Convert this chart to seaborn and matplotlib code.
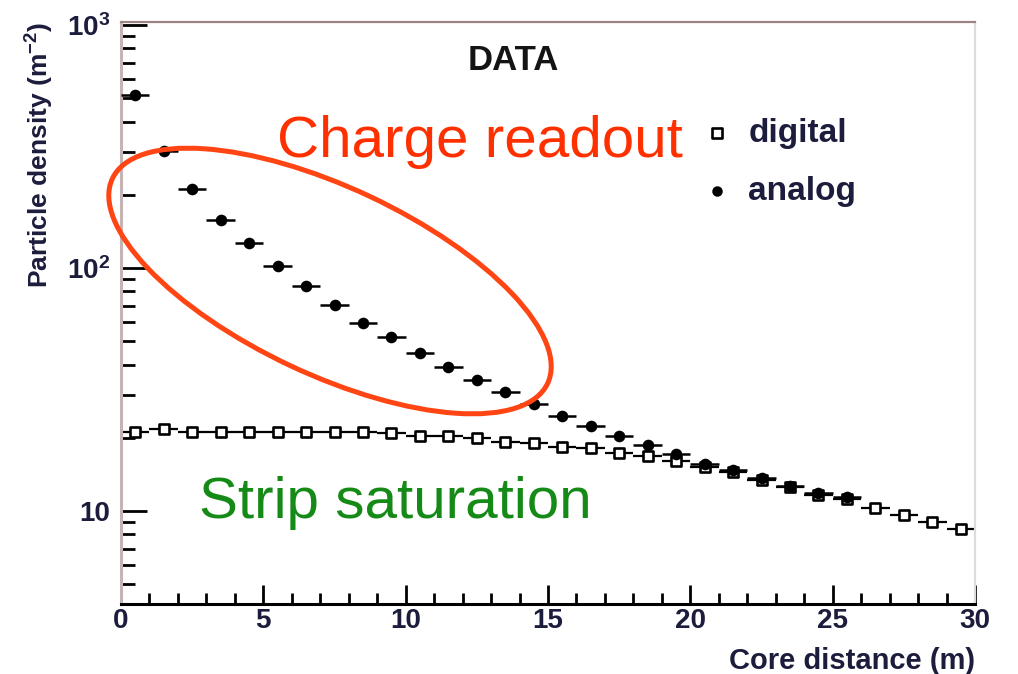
import matplotlib
matplotlib.use("Agg")
import matplotlib.pyplot as plt
from matplotlib.patches import Ellipse
from matplotlib.ticker import FixedLocator, FixedFormatter, LogLocator, MultipleLocator, NullFormatter
import pandas as pd
import seaborn as sns

# Core-distance bin centres (m); bins are 1 m wide
distance_digital = [0.5, 1.5, 2.5, 3.5, 4.5, 5.5, 6.5, 7.5, 8.5, 9.5,
                    10.5, 11.5, 12.5, 13.5, 14.5, 15.5, 16.5, 17.5, 18.5, 19.5,
                    20.5, 21.5, 22.5, 23.5, 24.5, 25.5, 26.5, 27.5, 28.5, 29.5]
density_digital = [21.1, 21.7, 21.1, 21.1, 21.1, 21.1, 21.1, 21.1, 21.1, 20.9,
                   20.4, 20.3, 19.9, 19.2, 19.0, 18.4, 18.1, 17.3, 16.8, 16.1,
                   15.2, 14.5, 13.4, 12.6, 11.6, 11.2, 10.3, 9.6, 9.0, 8.4]

distance_analog = [0.5, 1.5, 2.5, 3.5, 4.5, 5.5, 6.5, 7.5, 8.5, 9.5,
                   10.5, 11.5, 12.5, 13.5, 14.5, 15.5, 16.5, 17.5, 18.5, 19.5,
                   20.5, 21.5, 22.5, 23.5, 24.5, 25.5]
density_analog = [515, 303, 211, 158, 127, 102, 84.3, 70.5, 59.5, 51.8,
                  44.7, 39.2, 34.6, 30.9, 27.6, 24.6, 22.4, 20.4, 18.7, 17.2,
                  15.6, 14.7, 13.7, 12.7, 11.9, 11.4]

bin_half_width = 0.5

x_ticks = [0, 5, 10, 15, 20, 25, 30]
x_tick_labels = ["0", "5", "10", "15", "20", "25", "30"]
y_ticks = [10, 100, 1000]
y_tick_labels = ["10", "$\\mathbf{10^{2}}$", "$\\mathbf{10^{3}}$"]

sns.set_style("ticks")
plt.rcParams.update({
    "font.family": ["Liberation Sans", "DejaVu Sans"],
    "mathtext.fontset": "custom",
    "mathtext.rm": "Liberation Sans",
    "mathtext.it": "Liberation Sans:italic",
    "mathtext.bf": "Liberation Sans:bold",
})

W, H = 1018, 674
fig = plt.figure(figsize=(W / 100, H / 100), dpi=100)
fig.patch.set_facecolor("white")
ax = fig.add_axes([121 / W, (H - 604) / H, 854 / W, 582 / H])
ax.set_facecolor("white")

digital = pd.DataFrame({"distance": distance_digital, "density": density_digital})
analog = pd.DataFrame({"distance": distance_analog, "density": density_analog})

# digital (strip counting) points
ax.errorbar(digital["distance"], digital["density"], xerr=bin_half_width,
            fmt="none", ecolor="black", elinewidth=1.6, capsize=0, zorder=2)
sns.scatterplot(data=digital, x="distance", y="density", marker="s", s=60,
                color="white", edgecolor="black", linewidth=1.9,
                label="digital", ax=ax, zorder=3)

# analog (charge) points
ax.errorbar(analog["distance"], analog["density"], xerr=bin_half_width,
            fmt="none", ecolor="black", elinewidth=1.8, capsize=0, zorder=4)
sns.scatterplot(data=analog, x="distance", y="density", marker="o", s=70,
                color="black", edgecolor="black", linewidth=0,
                label="analog", ax=ax, zorder=5)

ax.set_yscale("log")
ax.set_xlim(0, 30)
ax.set_ylim(4.14, 1028)

tick_color = "#1c1c3c"
ax.xaxis.set_major_locator(FixedLocator(x_ticks))
ax.xaxis.set_major_formatter(FixedFormatter(x_tick_labels))
ax.xaxis.set_minor_locator(MultipleLocator(1))
ax.yaxis.set_major_locator(FixedLocator(y_ticks))
ax.yaxis.set_major_formatter(FixedFormatter(y_tick_labels))
ax.yaxis.set_minor_locator(LogLocator(base=10, subs=[2, 3, 4, 5, 6, 7, 8, 9]))
ax.yaxis.set_minor_formatter(NullFormatter())

ax.tick_params(axis="both", which="both", direction="in", color="black",
               labelcolor=tick_color, labelsize=20, width=2.0)
ax.tick_params(axis="x", which="major", length=14, pad=3, top=False)
ax.tick_params(axis="x", which="minor", length=8, top=False)
ax.tick_params(axis="y", which="major", length=19, pad=8, right=False)
ax.tick_params(axis="y", which="minor", length=10, right=False)
for lbl in ax.get_xticklabels() + ax.get_yticklabels():
    lbl.set_fontweight("bold")

ax.spines["bottom"].set_color("black")
ax.spines["bottom"].set_linewidth(2.2)
ax.spines["left"].set_color("#c4b4b4")
ax.spines["left"].set_linewidth(2.2)
ax.spines["top"].set_color("#9c8484")
ax.spines["top"].set_linewidth(1.6)
ax.spines["right"].set_color("#dcdcdc")
ax.spines["right"].set_linewidth(1.6)

ax.set_xlabel("Core distance (m)", loc="right", fontsize=21,
              fontweight="bold", color=tick_color)
ax.xaxis.set_label_coords(1.0, -(647 - 604) / 582)
ax.set_ylabel("")
fig.text(40 / W, (H - 22) / H, "Particle density (m$^{\\mathbf{-2}}$)", rotation=90,
         ha="center", va="top", fontsize=19, fontweight="bold", color=tick_color)

leg = ax.legend(loc="upper left", bbox_to_anchor=(700 / W, (H - 118) / H),
                bbox_transform=fig.transFigure, frameon=False,
                prop={"size": 24, "weight": "bold"},
                handlelength=1.0, handletextpad=0.45, labelspacing=0.8,
                borderpad=0, borderaxespad=0, markerscale=0.9)
for t in leg.get_texts():
    t.set_color(tick_color)

fig.text(468 / W, (H - 70) / H, "DATA", fontsize=25, fontweight="bold",
         color="#141414", ha="left", va="baseline")
fig.text(277 / W, (H - 157) / H, "Charge readout", fontsize=42,
         color="#ff3000", ha="left", va="baseline")
fig.text(199 / W, (H - 518) / H, "Strip saturation", fontsize=42,
         color="#168a16", ha="left", va="baseline")

# highlight around the charge-readout region
ring = Ellipse((330 / 100, (H - 281) / 100), 481 / 100, 187 / 100, angle=-25.2,
               transform=fig.dpi_scale_trans, fill=False,
               edgecolor="#ff4513", linewidth=3.6, zorder=10)
fig.add_artist(ring)

fig.savefig("out.png", dpi=100, facecolor="white")
